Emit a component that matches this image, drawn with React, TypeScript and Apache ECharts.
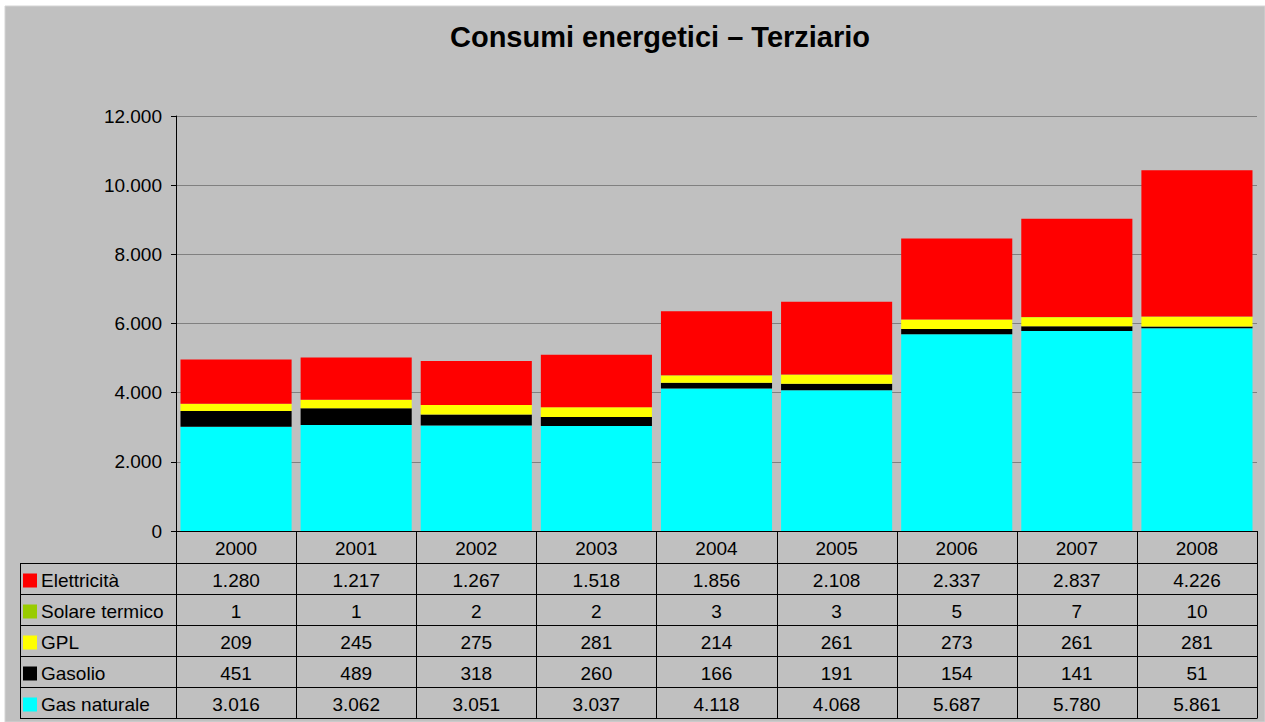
import React, { useEffect, useRef } from "react";
import * as echarts from "echarts";

const years = ["2000", "2001", "2002", "2003", "2004", "2005", "2006", "2007", "2008"];
const elettricita = [1280, 1217, 1267, 1518, 1856, 2108, 2337, 2837, 4226];
const solareTermico = [1, 1, 2, 2, 3, 3, 5, 7, 10];
const gpl = [209, 245, 275, 281, 214, 261, 273, 261, 281];
const gasolio = [451, 489, 318, 260, 166, 191, 154, 141, 51];
const gasNaturale = [3016, 3062, 3051, 3037, 4118, 4068, 5687, 5780, 5861];

const seriesNames = ["Gas naturale", "Gasolio", "GPL", "Solare termico", "Elettricità"];
const seriesData = [gasNaturale, gasolio, gpl, solareTermico, elettricita];
const seriesColors = ["#00FFFF", "#000000", "#FFFF00", "#99CC00", "#FF0000"];

const titleText = "Consumi energetici – Terziario";

const FONT = "'Liberation Sans', Arial, sans-serif";

function fmt(n: number): string {
  return String(n).replace(/\B(?=(\d{3})+(?!\d))/g, ".");
}

export default function App() {
  const ref = useRef<HTMLDivElement>(null);
  useEffect(() => {
    if (!ref.current) return;
    const chart = echarts.init(ref.current, undefined, { renderer: "svg" });
    const W = 1265;
    const H = 722;
    const gridLeft = 176;
    const gridRight = 1257;
    const gridTop = 116;
    const gridBottom = 531;
    const colW = (gridRight - gridLeft) / years.length;
    const rowH = 31;
    const tableTop = 563;
    const legendLeft = 20;
    const nRows = seriesNames.length;
    const tableBottom = tableTop + rowH * nRows;

    const graphics: any[] = [];
    graphics.push({
      type: "rect",
      shape: { x: 5, y: 6, width: W - 5, height: H - 6 },
      style: { fill: "#C0C0C0", stroke: "#D4D4D4", lineWidth: 1 },
      z: -10,
      silent: true,
    });
    graphics.push({
      type: "text",
      x: 660,
      y: 37,
      style: { text: titleText, font: `bold 29px ${FONT}`, fill: "#000", textAlign: "center", textVerticalAlign: "middle" },
      z: 10,
    });
    const lineStyle = { stroke: "#000000", lineWidth: 1 };
    for (let i = 0; i <= nRows; i++) {
      const y = tableTop + rowH * i + 0.5;
      graphics.push({ type: "line", shape: { x1: legendLeft, y1: y, x2: gridRight, y2: y }, style: lineStyle, z: 10 });
    }
    for (let j = 0; j <= years.length; j++) {
      const x = Math.round(gridLeft + colW * j) + 0.5;
      graphics.push({ type: "line", shape: { x1: x, y1: gridBottom, x2: x, y2: tableBottom + 0.5 }, style: lineStyle, z: 10 });
    }
    graphics.push({ type: "line", shape: { x1: legendLeft + 0.5, y1: tableTop, x2: legendLeft + 0.5, y2: tableBottom + 0.5 }, style: lineStyle, z: 10 });

    for (let r = 0; r < nRows; r++) {
      const si = nRows - 1 - r;
      const cy = tableTop + rowH * r + rowH / 2 + 2;
      graphics.push({
        type: "rect",
        shape: { x: 23, y: cy - 7, width: 14, height: 14 },
        style: { fill: seriesColors[si] },
        z: 10,
      });
      graphics.push({
        type: "text",
        x: 41,
        y: cy,
        style: { text: seriesNames[si], font: `19px ${FONT}`, fill: "#000", textVerticalAlign: "middle", textAlign: "left" },
        z: 10,
      });
      for (let j = 0; j < years.length; j++) {
        graphics.push({
          type: "text",
          x: gridLeft + colW * (j + 0.5),
          y: cy,
          style: { text: fmt(seriesData[si][j]), font: `19px ${FONT}`, fill: "#000", textVerticalAlign: "middle", textAlign: "center" },
          z: 10,
        });
      }
    }

    chart.setOption({
      animation: false,
      backgroundColor: "transparent",
      grid: { left: gridLeft, right: W - gridRight, top: gridTop, bottom: H - gridBottom, containLabel: false },
      xAxis: {
        type: "category",
        data: years,
        axisLine: { show: true, lineStyle: { color: "#000", width: 1 } },
        axisTick: { show: false },
        axisLabel: { fontFamily: FONT, fontSize: 19, color: "#000", margin: 8 },
        splitLine: { show: false },
      },
      yAxis: {
        type: "value",
        min: 0,
        max: 12000,
        interval: 2000,
        axisLine: { show: true, lineStyle: { color: "#000", width: 1 } },
        axisTick: { show: true, length: 5, lineStyle: { color: "#000" } },
        axisLabel: { fontFamily: FONT, fontSize: 19, color: "#000", margin: 14, formatter: (v: number) => fmt(v) },
        splitLine: { show: true, lineStyle: { color: "#808080", width: 1 } },
      },
      series: seriesNames.map((name, i) => ({
        name,
        type: "bar",
        stack: "total",
        data: seriesData[i],
        barCategoryGap: "7.5%",
        itemStyle: { color: seriesColors[i] },
      })),
      graphic: graphics,
    });
    return () => chart.dispose();
  }, []);
  return (
    <div
      ref={ref}
      style={{ position: "fixed", left: 0, top: 0, width: 1265, height: 722, background: "#FFFFFF" }}
    />
  );
}
